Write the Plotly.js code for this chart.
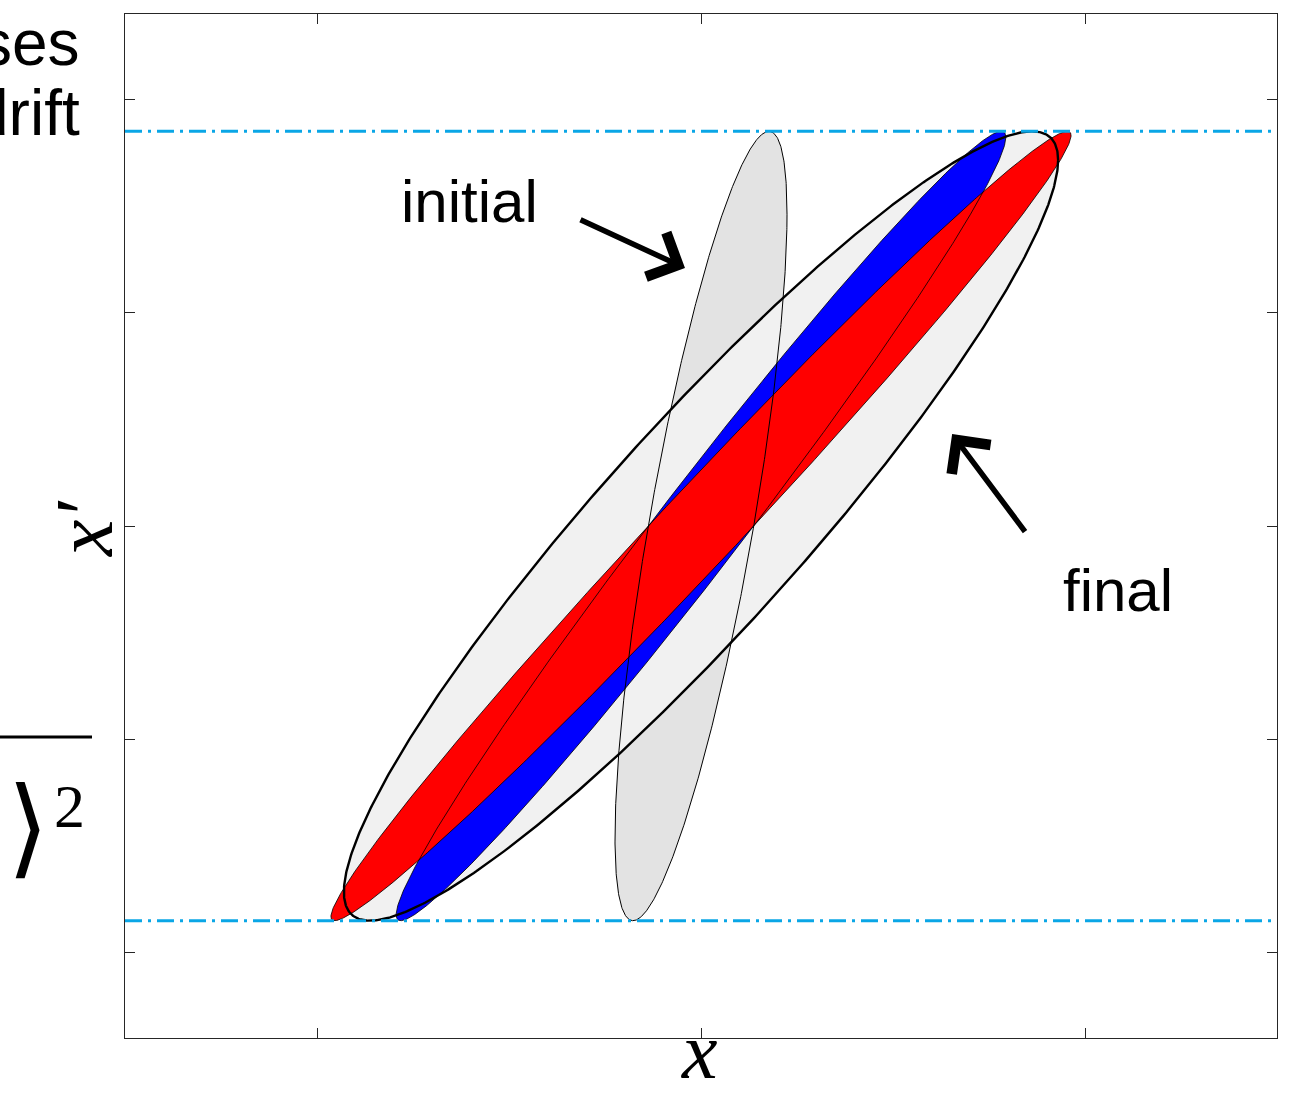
<!DOCTYPE html>
<html>
<head>
<meta charset="utf-8">
<script src="https://cdn.plot.ly/plotly-3.0.1.min.js"></script>
<style>
html, body { margin: 0; padding: 0; background: #ffffff; }
#chart { width: 1296px; height: 1096px; }
</style>
</head>
<body>
<div id="chart"></div>
<script>
// ---- data (axis units: x in [-1.5,1.5], x' in [-2.4,2.4]) ----
// phase-space ellipses: half-width in x, half-height in x', and correlation
// (x at the x'-maximum divided by the x half-width)
const ellipseNames   = ['initial', 'final'];
const ellipseXMax    = [0.224, 0.93];
const ellipseXpMax   = [1.85, 1.85];
const ellipseCorr    = [0.79, 0.927];

// the initial ellipse after a drift, for two slices (drift length in axis units)
const sliceNames     = ['blue slice', 'red slice'];
const sliceDrift     = [0.327, 0.42];

// levels of the dash-dotted lines (x' extremes)
const dashLevels     = [1.85, -1.85];

// ticks (no labels shown)
const xTickVals      = [-1, 0, 1];
const yTickVals      = [-2, -1, 0, 1, 2];

// ---- styles ----
const ellipseFill    = ['#e3e3e3', '#f1f1f1'];
const ellipseLineW   = [1, 2.4];
const sliceFill      = ['#0000ff', '#ff0000'];
const dashColor      = '#0aa6e6';

function ellipseOutline(a, b, r, drift) {
  const xs = [], ys = [];
  const n = 721;
  const s = Math.sqrt(1 - r * r);
  for (let i = 0; i < n; i++) {
    const th = 2 * Math.PI * i / (n - 1);
    const xp = b * (r * Math.cos(th) + s * Math.sin(th));
    const x = a * Math.cos(th) + drift * xp;
    xs.push(x); ys.push(xp);
  }
  return {x: xs, y: ys};
}

const iniShape = ellipseOutline(ellipseXMax[0], ellipseXpMax[0], ellipseCorr[0], 0);
const finShape = ellipseOutline(ellipseXMax[1], ellipseXpMax[1], ellipseCorr[1], 0);
const sliceShapes = sliceDrift.map(L => ellipseOutline(ellipseXMax[0], ellipseXpMax[0], ellipseCorr[0], L));

function fillTrace(shape, color, name) {
  return {type: 'scatter', mode: 'lines', x: shape.x, y: shape.y, name: name,
    fill: 'toself', fillcolor: color, line: {width: 0, color: 'rgba(0,0,0,0)'},
    hoverinfo: 'skip', showlegend: false};
}
function lineTrace(shape, w, name) {
  return {type: 'scatter', mode: 'lines', x: shape.x, y: shape.y, name: name,
    line: {width: w, color: '#000000'}, hoverinfo: 'skip', showlegend: false};
}

const traces = [];
traces.push(fillTrace(iniShape, ellipseFill[0], ellipseNames[0]));
traces.push(fillTrace(finShape, ellipseFill[1], ellipseNames[1]));
sliceShapes.forEach((sh, i) => traces.push(fillTrace(sh, sliceFill[i], sliceNames[i])));
sliceShapes.forEach((sh, i) => traces.push(lineTrace(sh, 0.8, sliceNames[i] + ' edge')));
traces.push(lineTrace(iniShape, ellipseLineW[0], ellipseNames[0] + ' edge'));
traces.push(lineTrace(finShape, ellipseLineW[1], ellipseNames[1] + ' edge'));
dashLevels.forEach(v => traces.push({type: 'scatter', mode: 'lines',
  x: [-1.5, 1.5], y: [v, v], line: {color: dashColor, width: 3, dash: '17px,6px,3px,6px'},
  hoverinfo: 'skip', showlegend: false}));

const px2paperX = px => (px - 125) / 1152;
const px2paperY = py => (1038 - py) / 1024;

const axisCommon = {
  showgrid: false, zeroline: false, showline: true, linecolor: '#262626', linewidth: 1,
  mirror: 'ticks', ticks: 'inside', ticklen: 10, tickwidth: 1, tickcolor: '#262626',
  showticklabels: false, fixedrange: true
};

const mathFont = {family: 'Liberation Serif', size: 80, style: 'italic', color: '#000'};
const wordFont = {family: 'Liberation Sans', size: 60, color: '#000'};
const sideFont = {family: 'Liberation Sans', size: 64, color: '#000'};

const layout = {
  width: 1296, height: 1096,
  margin: {l: 125, r: 19, t: 14, b: 58},
  paper_bgcolor: '#ffffff', plot_bgcolor: '#ffffff',
  showlegend: false,
  xaxis: Object.assign({}, axisCommon, {range: [-1.5, 1.5], tickvals: xTickVals, title: {text: ''}}),
  yaxis: Object.assign({}, axisCommon, {range: [-2.4, 2.4], tickvals: yTickVals, title: {text: ''}}),
  annotations: [
    {text: 'x', xref: 'paper', yref: 'paper', x: px2paperX(699), y: px2paperY(1096),
     xanchor: 'center', yanchor: 'bottom', borderpad: 0, showarrow: false, font: mathFont},
    {text: 'x′', xref: 'paper', yref: 'paper', x: px2paperX(84), y: px2paperY(529),
     xanchor: 'center', yanchor: 'middle', textangle: -90, showarrow: false,
     font: {family: 'Liberation Serif', size: 82, style: 'italic', color: '#000'}},
    {text: 'initial', xref: 'x', yref: 'y', x: -0.602, y: 1.519, showarrow: false, font: wordFont},
    {text: 'final', xref: 'x', yref: 'y', x: 1.086, y: -0.300, showarrow: false, font: wordFont},
    {text: '', xref: 'x', yref: 'y', x: -0.0417, y: 1.209, ax: -106, ay: -49,
     showarrow: true, arrowhead: 4, arrowwidth: 5.5, arrowsize: 1.7, arrowcolor: '#000'},
    {text: '', xref: 'x', yref: 'y', x: 0.654, y: 0.431, ax: 74, ay: 99,
     showarrow: true, arrowhead: 4, arrowwidth: 5.5, arrowsize: 1.7, arrowcolor: '#000'},
    {text: 'ses', xref: 'paper', yref: 'paper', x: px2paperX(82), y: px2paperY(65 - 0.3465 * 64),
     xanchor: 'right', yanchor: 'middle', showarrow: false, font: sideFont},
    {text: 'drift', xref: 'paper', yref: 'paper', x: px2paperX(82), y: px2paperY(135 - 0.3465 * 64),
     xanchor: 'right', yanchor: 'middle', showarrow: false, font: sideFont},
    {text: '⟩', xref: 'paper', yref: 'paper', x: px2paperX(28), y: px2paperY(826),
     xanchor: 'center', yanchor: 'middle', showarrow: false,
     font: {family: 'DejaVu Sans', size: 108, color: '#000'}},
    {text: '2', xref: 'paper', yref: 'paper', x: px2paperX(69), y: px2paperY(806),
     xanchor: 'center', yanchor: 'middle', showarrow: false,
     font: {family: 'Liberation Serif', size: 62, color: '#000'}}
  ],
  shapes: [
    {type: 'line', xref: 'paper', yref: 'paper', x0: px2paperX(0), x1: px2paperX(92),
     y0: px2paperY(737), y1: px2paperY(737), line: {color: '#000', width: 3}}
  ]
};

Plotly.newPlot('chart', traces, layout, {displayModeBar: false, staticPlot: true});
</script>
</body>
</html>
